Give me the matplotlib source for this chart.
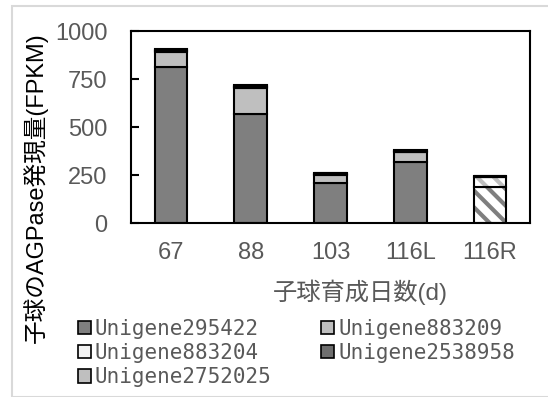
import numpy as np
import matplotlib
matplotlib.use("Agg")
import matplotlib.pyplot as plt
from matplotlib.patches import Rectangle, Patch

plt.rcParams['hatch.linewidth'] = 3

days = ["67", "88", "103", "116L", "116R"]
genes = ["Unigene295422", "Unigene883209", "Unigene883204",
         "Unigene2538958", "Unigene2752025"]
# FPKM per gene (bottom to top of each stack)
u295422 = [814, 569, 207, 316, 186]
u883209 = [78, 135, 45, 52, 52]
u883204 = [4, 4, 3, 3, 2]
u2538958 = [6, 8, 5, 6, 3]
u2752025 = [4, 4, 2, 3, 2]
yticks = [0, 250, 500, 750, 1000]

series = [u295422, u883209, u883204, u2538958, u2752025]
colors = ["#7f7f7f", "#bfbfbf", "#f2f2f2", "#6e6e6e", "#bfbfbf"]

W, H = 548, 397
fig = plt.figure(figsize=(W / 100, H / 100), dpi=100)
ax = fig.add_axes([131 / W, 1 - 223 / H, 399 / W, 192 / H])

x = np.arange(len(days))
bw = 0.41
bottom = np.zeros(len(days))
for vals, c in zip(series, colors):
    vals = np.array(vals, dtype=float)
    for i in range(len(days)):
        if days[i] == "116R":
            # 116R is drawn striped, stripes in the series colour
            ax.bar(x[i], vals[i], bw, bottom=bottom[i], color="white",
                   edgecolor=c, linewidth=0, hatch="\\\\")
            ax.bar(x[i], vals[i], bw, bottom=bottom[i], fill=False,
                   edgecolor="black", linewidth=1.5)
        else:
            ax.bar(x[i], vals[i], bw, bottom=bottom[i], color=c,
                   edgecolor="black", linewidth=1.5)
    bottom += vals

ax.set_xlim(-0.5, len(days) - 0.5)
ax.set_ylim(0, 1000)
ax.set_yticks(yticks)
ax.set_xticks(x)
ax.set_xticklabels(days)
for s in ax.spines.values():
    s.set_linewidth(1.5)
ax.tick_params(axis="y", direction="in", length=6, width=1.5, pad=17,
               labelsize=17, labelcolor="#595959")
ax.tick_params(axis="x", length=0, pad=14, labelsize=17, labelcolor="#595959")
for t in ax.get_xticklabels() + ax.get_yticklabels():
    t.set_family("Liberation Sans")

fig.text(360 / W, 1 - 292 / H, "子球育成日数(d)", ha="center", va="center",
         fontsize=17.5, color="#595959", family=["Liberation Sans", "Noto Sans CJK JP"])
fig.text(35 / W, 1 - 188 / H, "子球のAGPase発現量(FPKM)", rotation=90,
         ha="center", va="center", fontsize=17, color="black",
         family=["Liberation Sans", "Noto Sans CJK JP"])

handles = [Patch(facecolor=c, edgecolor="black", linewidth=1.2, label=g)
           for c, g in zip(colors, genes)]
order = [0, 2, 4, 1, 3]
leg = fig.legend([handles[i] for i in order], [genes[i] for i in order],
                 ncol=2, loc="upper left", bbox_to_anchor=(78 / W, 1 - 319 / H),
                 frameon=False, prop={"family": "DejaVu Sans Mono", "size": 15},
                 handlelength=0.6, handleheight=0.6, handletextpad=0.2,
                 columnspacing=2.4, labelspacing=0.2, borderpad=0,
                 borderaxespad=0)
for t in leg.get_texts():
    t.set_color("#595959")

fig.patches.append(Rectangle((12 / W, 0), 1, 1 - 6 / H, transform=fig.transFigure,
                             fill=False, edgecolor="#d9d9d9", linewidth=1.5))

fig.savefig("out.png", dpi=100)
